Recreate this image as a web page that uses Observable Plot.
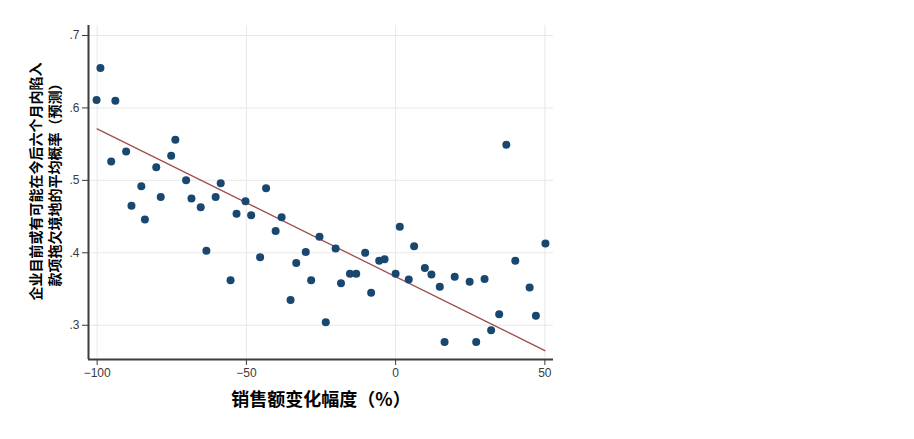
<!DOCTYPE html>
<html><head><meta charset="utf-8">
<script src="https://cdn.jsdelivr.net/npm/d3@7"></script>
<script src="https://cdn.jsdelivr.net/npm/@observablehq/plot@0.6"></script>
<style>body{margin:0;background:#fff}</style>
</head><body><div id="chart"></div>
<script>
const salesChange = [-100.2,-98.9,-93.9,-95.3,-90.3,-88.5,-85.2,-84.0,-80.2,-78.7,-75.2,-73.8,-70.2,-68.4,-65.3,-63.4,-60.3,-58.6,-55.3,-53.3,-50.3,-48.4,-45.4,-43.4,-40.2,-38.2,-35.2,-33.3,-30.1,-28.3,-25.5,-23.4,-20.1,-18.3,-15.3,-13.2,-10.2,-8.2,-5.5,-3.7,0.0,1.4,4.4,6.2,9.8,12.0,14.8,16.4,19.8,24.8,27.0,29.8,32.0,34.7,37.1,40.1,44.9,47.0,50.2];
const probability = [0.611,0.655,0.610,0.526,0.540,0.465,0.492,0.446,0.518,0.477,0.534,0.556,0.500,0.475,0.463,0.403,0.477,0.496,0.362,0.454,0.471,0.452,0.394,0.489,0.430,0.449,0.335,0.386,0.401,0.362,0.422,0.304,0.406,0.358,0.371,0.371,0.400,0.345,0.389,0.391,0.371,0.436,0.363,0.409,0.379,0.370,0.353,0.277,0.367,0.360,0.277,0.364,0.293,0.315,0.549,0.389,0.352,0.313,0.413];
const fitX = [-100, 50];
const fitY = [0.571, 0.265];
const xTicks = [-100, -50, 0, 50];
const yTicks = [0.3, 0.4, 0.5, 0.6, 0.7];
const xDomain = [-102.9, 52.9];
const yDomain = [0.2527, 0.7138];
const yTitle = ["企业目前或有可能在今后六个月内陷入", "款项拖欠境地的平均概率（预测）"];
const xTitle = "销售额变化幅度（%）";

const points = salesChange.map((x, i) => ({x, y: probability[i]}));
const fit = fitX.map((x, i) => ({x, y: fitY[i]}));
const cjk = "'Noto Sans CJK SC', sans-serif";

const chart = Plot.plot({
  width: 914, height: 439,
  marginLeft: 88, marginRight: 361, marginTop: 25, marginBottom: 80,
  style: {fontFamily: "'Liberation Sans', Arial, sans-serif", fontSize: "12px", background: "#fff"},
  x: {domain: xDomain},
  y: {domain: yDomain},
  marks: [
    Plot.gridX(xTicks, {stroke: "#e8e8e8", strokeOpacity: 1}),
    Plot.gridY(yTicks, {stroke: "#e8e8e8", strokeOpacity: 1}),
    Plot.axisX(xTicks, {tickSize: 6, tickPadding: 3, label: null, color: "#3a3a3a", fontSize: 12}),
    Plot.axisY(yTicks, {tickSize: 6, tickPadding: 3, label: null, color: "#3a3a3a", fontSize: 12,
      tickFormat: d => d.toFixed(1).replace(/^0/, "")}),
    Plot.ruleX([xDomain[0]], {stroke: "#3c3c3c", strokeWidth: 2}),
    Plot.ruleY([yDomain[0]], {stroke: "#3c3c3c", strokeWidth: 2}),
    Plot.line(fit, {x: "x", y: "y", stroke: "#9e4d4d", strokeWidth: 1.3}),
    Plot.dot(points, {x: "x", y: "y", r: 4, fill: "#1a476f", stroke: "none"}),
    Plot.text([xTitle], {frameAnchor: "bottom", dy: 41, lineAnchor: "middle", textAnchor: "middle",
      fontSize: 18, fontWeight: "bold", fontFamily: cjk, fill: "#000"}),
    Plot.text([yTitle.join("\n")], {frameAnchor: "left", rotate: -90, dx: -44.5, dy: -11,
      lineAnchor: "middle", textAnchor: "middle", lineHeight: 1.36,
      fontSize: 14, fontWeight: "bold", fontFamily: cjk, fill: "#000"})
  ]
});
document.getElementById("chart").appendChild(chart);
</script>
</body></html>
